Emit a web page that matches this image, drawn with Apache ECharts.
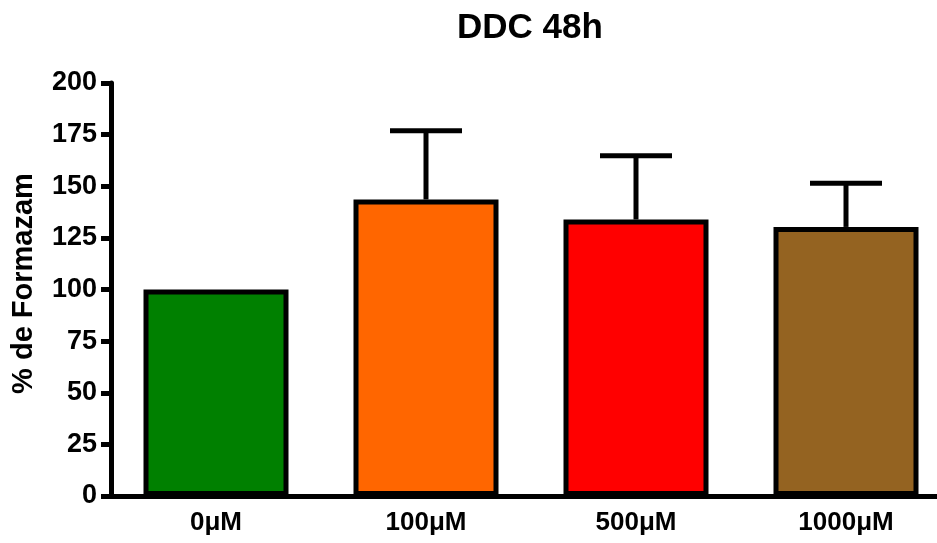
<!DOCTYPE html>
<html>
<head>
<meta charset="utf-8">
<script src="https://cdn.jsdelivr.net/npm/echarts@6/dist/echarts.min.js"></script>
<style>
  html, body { margin: 0; padding: 0; background: #fff; }
  #main { width: 937px; height: 543px; }
</style>
</head>
<body>
<div id="main"></div>
<script>
// data
var categories = ['0μM', '100μM', '500μM', '1000μM'];
var means = [100, 143.6, 133.9, 130.3];
var errors = [0, 33.3, 30.9, 21.1];
var colors = ['#008000', '#ff6600', '#ff0000', '#946321'];

var chart = echarts.init(document.getElementById('main'));

var font = 'Liberation Sans, Arial, sans-serif';

var barData = means.map(function (v, i) {
  return { value: v, itemStyle: { color: colors[i] } };
});
var errData = means.map(function (v, i) {
  return [i, v, v + errors[i]];
});

var option = {
  backgroundColor: '#fff',
  animation: false,
  title: {
    text: 'DDC 48h',
    left: 525,
    textAlign: 'center',
    top: 6,
    textStyle: { fontFamily: font, fontSize: 35, fontWeight: 'bold', color: '#000' }
  },
  grid: { left: 111, top: 83, width: 840, bottom: 47, outerBoundsMode: 'none', containLabel: false },
  xAxis: {
    type: 'category',
    data: categories,
    axisLine: { lineStyle: { color: '#000', width: 5 } },
    axisTick: { alignWithLabel: true, length: 10, lineStyle: { color: '#000', width: 5 } },
    axisLabel: { fontFamily: font, fontSize: 26, fontWeight: 'bold', color: '#000', margin: 14 }
  },
  yAxis: {
    type: 'value',
    min: 0,
    max: 200,
    interval: 25,
    name: '% de Formazam',
    nameLocation: 'middle',
    nameGap: 73,
    nameTextStyle: { fontFamily: font, fontSize: 29, fontWeight: 'bold', color: '#000', padding: [0, 0, 0, 12] },
    splitLine: { show: false },
    axisLine: { show: true, lineStyle: { color: '#000', width: 5 } },
    axisTick: { show: true, length: 10, lineStyle: { color: '#000', width: 5 } },
    axisLabel: { fontFamily: font, fontSize: 27, fontWeight: 'bold', color: '#000', margin: 14 }
  },
  series: [
    {
      type: 'custom',
      z: 1,
      data: errData,
      renderItem: function (params, api) {
        var i = api.value(0);
        var base = api.coord([i, api.value(1)]);
        var top = api.coord([i, api.value(2)]);
        if (api.value(2) <= api.value(1)) return;
        var style = { stroke: '#000', lineWidth: 5 };
        return {
          type: 'group',
          children: [
            { type: 'line', shape: { x1: base[0], y1: base[1], x2: top[0], y2: top[1] }, style: style },
            { type: 'line', shape: { x1: top[0] - 36, y1: top[1], x2: top[0] + 36, y2: top[1] }, style: style }
          ]
        };
      }
    },
    {
      type: 'bar',
      z: 2,
      barWidth: 145,
      data: barData,
      itemStyle: { borderColor: '#000', borderWidth: 5 }
    }
  ]
};

chart.setOption(option);
</script>
</body>
</html>
